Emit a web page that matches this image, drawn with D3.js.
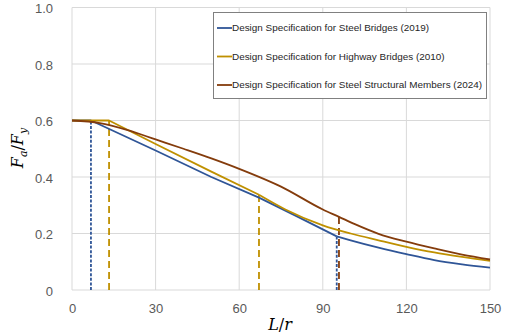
<!DOCTYPE html>
<html><head><meta charset="utf-8">
<script src="https://cdn.jsdelivr.net/npm/d3@7"></script>
<style>
html,body{margin:0;padding:0;background:#fff;}
svg{display:block;}
</style></head>
<body>
<svg id="chart" width="505" height="335"></svg>
<script>
// ---- data ----
const seriesNames = [
  "Design Specification for Steel Bridges (2019)",
  "Design Specification for Highway Bridges (2010)",
  "Design Specification for Steel Structural Members (2024)"
];
// Steel Bridges (2019)
const blueX = [0, 6.8, 30, 50, 67.1, 80, 95, 100, 110, 120, 130, 140, 150];
const blueY = [0.6, 0.6, 0.494, 0.400, 0.327, 0.264, 0.19, 0.176, 0.150, 0.127, 0.106, 0.091, 0.079];
const blueKinks = [6.8, 95];
// Highway Bridges (2010)
const goldX = [0, 13.3, 30, 50, 67.1, 76.4, 90, 100, 110, 120, 130, 140, 150];
const goldY = [0.6, 0.6, 0.517, 0.419, 0.337, 0.286, 0.229, 0.200, 0.176, 0.153, 0.133, 0.117, 0.103];
const goldKinks = [13.3, 67.1];
// Steel Structural Members (2024)
const brownX = [0, 10, 20, 30, 40, 50, 60, 75, 90, 95.8, 101.5, 110, 120, 130, 140, 150];
const brownY = [0.6, 0.591, 0.566, 0.533, 0.500, 0.466, 0.429, 0.366, 0.285, 0.259, 0.233, 0.199, 0.171, 0.147, 0.125, 0.108];
const brownKinks = [95.8];

const xTicks = [0, 30, 60, 90, 120, 150];
const yTicks = [0, 0.2, 0.4, 0.6, 0.8, 1.0];
const yTickLabels = ["0", "0.2", "0.4", "0.6", "0.8", "1.0"];

// ---- styles ----
const colors = ["#2F5597", "#BF9000", "#843C0C"];
const dashes = ["3,1.6", "7,4", "7,4"];

const svg = d3.select("#chart");
const x = d3.scaleLinear().domain([0, 150]).range([72, 490]);
const y = d3.scaleLinear().domain([0, 1]).range([290, 7.5]);

// gridlines
const grid = svg.append("g");
grid.selectAll("line.v").data(xTicks).join("line")
  .attr("x1", d => x(d)).attr("x2", d => x(d))
  .attr("y1", y(0)).attr("y2", y(1))
  .attr("stroke", "#d9d9d9").attr("stroke-width", 1);
grid.selectAll("line.h").data(yTicks).join("line")
  .attr("x1", x(0)).attr("x2", x(150))
  .attr("y1", d => y(d)).attr("y2", d => y(d))
  .attr("stroke", "#d9d9d9").attr("stroke-width", 1);

// axes (labels only, via d3 axis)
const tickFont = "'Liberation Sans', Arial, sans-serif";
const xAxis = svg.append("g").attr("transform", `translate(0,${y(0)})`)
  .call(d3.axisBottom(x).tickValues(xTicks).tickSize(0).tickPadding(14).tickFormat(d3.format("d")));
const yAxis = svg.append("g").attr("transform", `translate(${x(0)},0)`)
  .call(d3.axisLeft(y).tickValues(yTicks).tickSize(0).tickPadding(19).tickFormat((d, i) => yTickLabels[i]));
[xAxis, yAxis].forEach(a => {
  a.select(".domain").remove();
  a.selectAll("text").attr("fill", "#595959").style("font-family", tickFont).style("font-size", "13px");
});
yAxis.selectAll("text").attr("dy", "0.42em");

// series
const data = [
  {xs: blueX, ys: blueY, kinks: blueKinks},
  {xs: goldX, ys: goldY, kinks: goldKinks},
  {xs: brownX, ys: brownY, kinks: brownKinks}
];
const lineLin = d3.line().x(d => x(d[0])).y(d => y(d[1])).curve(d3.curveLinear);
const lineCurve = d3.line().x(d => x(d[0])).y(d => y(d[1])).curve(d3.curveMonotoneX);

// dashed marker lines first
data.forEach((s, i) => {
  s.kinks.forEach(k => {
    const idx = s.xs.indexOf(k);
    const v = s.ys[idx];
    svg.append("line")
      .attr("x1", x(k)).attr("x2", x(k))
      .attr("y1", y(0)).attr("y2", y(v))
      .attr("stroke", colors[i]).attr("stroke-width", 1.8)
      .attr("stroke-dasharray", dashes[i]);
  });
});

data.forEach((s, i) => {
  const pts = s.xs.map((xv, j) => [xv, s.ys[j]]);
  if (i === 2) {
    svg.append("path").datum(pts).attr("d", lineCurve)
      .attr("fill", "none").attr("stroke", colors[i]).attr("stroke-width", 1.8);
  } else {
    const lastKink = s.kinks[s.kinks.length - 1];
    const linPart = pts.filter(p => p[0] <= lastKink);
    const curPart = pts.filter(p => p[0] >= lastKink);
    svg.append("path").datum(linPart).attr("d", lineLin)
      .attr("fill", "none").attr("stroke", colors[i]).attr("stroke-width", 1.8)
      .attr("stroke-linejoin", "round");
    svg.append("path").datum(curPart).attr("d", lineCurve)
      .attr("fill", "none").attr("stroke", colors[i]).attr("stroke-width", 1.8);
  }
});

// axis titles
const mathFont = "'DejaVu Serif', 'Liberation Serif', serif";
const xt = svg.append("text").attr("x", 280).attr("y", 330).attr("text-anchor", "middle")
  .style("font-family", mathFont).style("font-style", "italic").style("font-size", "16px").attr("fill", "#000");
xt.append("tspan").text("L");
xt.append("tspan").style("font-style", "normal").text("/");
xt.append("tspan").text("r");

const yt = svg.append("text").attr("transform", "translate(23,148) rotate(-90)").attr("text-anchor", "middle")
  .style("font-family", mathFont).style("font-style", "italic").style("font-size", "16px").attr("fill", "#000");
yt.append("tspan").text("F");
yt.append("tspan").attr("dy", 4).style("font-size", "11px").text("a");
yt.append("tspan").attr("dy", -4).style("font-style", "normal").text("/");
yt.append("tspan").text("F");
yt.append("tspan").attr("dy", 4).style("font-size", "11px").text("y");

// legend
const lg = svg.append("g");
lg.append("rect").attr("x", 213.5).attr("y", 12.5).attr("width", 273).attr("height", 86)
  .attr("fill", "#fff").attr("stroke", "#808080").attr("stroke-width", 1);
const rowsY = [28, 56.5, 85];
const legTexts = [];
seriesNames.forEach((n, i) => {
  lg.append("line").attr("x1", 217).attr("x2", 232).attr("y1", rowsY[i]).attr("y2", rowsY[i])
    .attr("stroke", colors[i]).attr("stroke-width", 1.8);
  const t = lg.append("text").attr("x", 232).attr("y", rowsY[i]).attr("dy", "0.35em")
    .style("font-family", "'Liberation Sans', Arial, sans-serif").style("font-size", "11px")
    .attr("fill", "#262626").text(n);
  legTexts.push(t);
});
// fit legend font so the longest entry spans ~250px as in the reference
const w = legTexts[2].node().getComputedTextLength();
const fs = Math.min(12.5, 11 * 250 / w);
legTexts.forEach(t => t.style("font-size", fs.toFixed(2) + "px"));
</script>
</body></html>
